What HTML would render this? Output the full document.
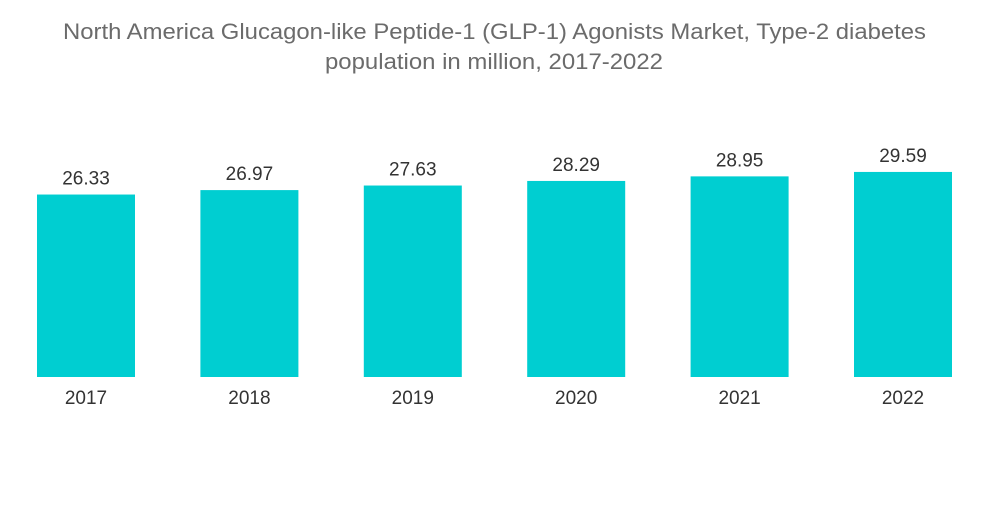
<!DOCTYPE html>
<html><head><meta charset="utf-8"><style>
body{margin:0;background:#fff;width:1000px;height:504px;overflow:hidden;font-family:"Liberation Sans",sans-serif;}
</style></head><body>
<svg width="1000" height="504">
<text x="494.5" y="39" text-anchor="middle" font-size="22" textLength="863" lengthAdjust="spacingAndGlyphs" fill="#6b6b6b">North America Glucagon-like Peptide-1 (GLP-1) Agonists Market, Type-2 diabetes</text>
<text x="494" y="69" text-anchor="middle" font-size="22" textLength="338" lengthAdjust="spacingAndGlyphs" fill="#6b6b6b">population in million, 2017-2022</text>
<g id="bars"></g>
</svg>
<script>
const categories=["2017","2018","2019","2020","2021","2022"];
const values=[26.33,26.97,27.63,28.29,28.95,29.59];
const valueLabels=["26.33","26.97","27.63","28.29","28.95","29.59"];
const base=377, pxPerUnit=6.93, x0=37, step=163.4, bw=98;
const y=v=>base-v*pxPerUnit;
const xs=i=>x0+i*step;
const g=document.getElementById('bars');
const ns="http://www.w3.org/2000/svg";
categories.forEach((c,i)=>{
 const r=document.createElementNS(ns,'rect');
 
 
 r.setAttribute('x',xs(i));r.setAttribute('y',y(values[i]));
 r.setAttribute('width',bw);r.setAttribute('height',base-y(values[i]));
 r.setAttribute('fill','#00ced1');g.appendChild(r);
 const t=document.createElementNS(ns,'text');
 
 
 t.setAttribute('x',xs(i)+bw/2);t.setAttribute('y',y(values[i])-10);
 t.setAttribute('text-anchor','middle');t.setAttribute('font-size','19');t.setAttribute('fill','#333');
 t.textContent=valueLabels[i];g.appendChild(t);
 const l=document.createElementNS(ns,'text');
 
 
 l.setAttribute('x',xs(i)+bw/2);l.setAttribute('y',404);
 l.setAttribute('text-anchor','middle');l.setAttribute('font-size','19');l.setAttribute('fill','#333');
 l.textContent=c;g.appendChild(l);
});
</script>
</body></html>
